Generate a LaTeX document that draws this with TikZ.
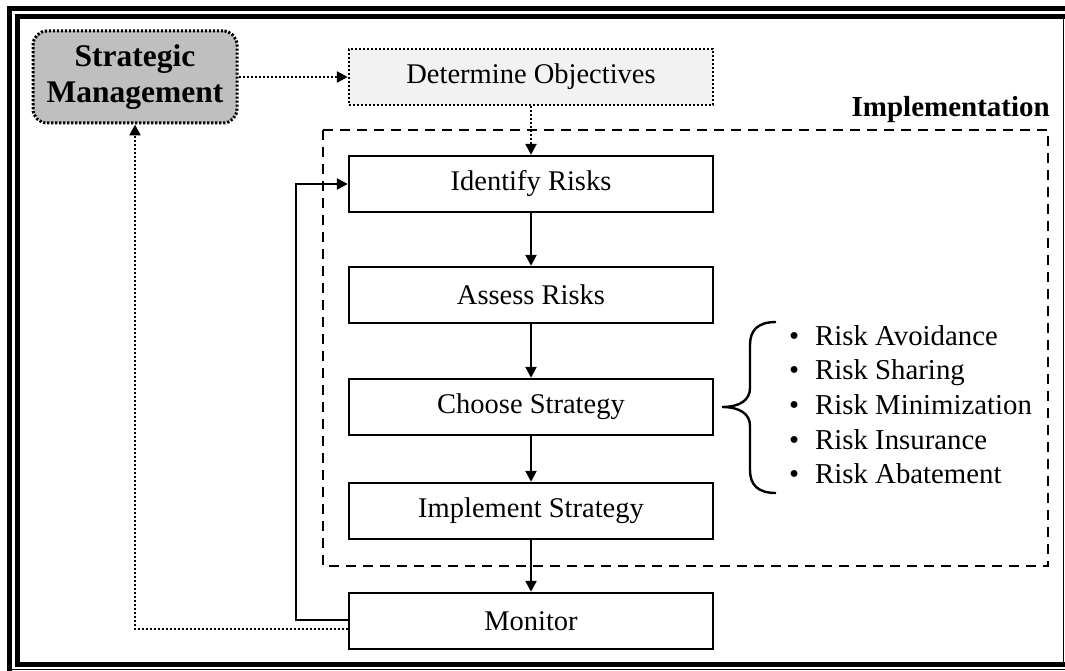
\documentclass[tikz,border=0pt]{standalone}
\usepackage{fontspec}
\setmainfont{Liberation Serif}
\usetikzlibrary{arrows.meta,calc}
\begin{document}
\begin{tikzpicture}[x=1pt,y=-1pt,
  box/.style={draw=black,line width=2.4pt,minimum width=364pt,minimum height=56pt,inner sep=0pt,
    font=\fontsize{28.5}{33}\selectfont},
  dotline/.style={line width=2.5pt,dash pattern=on 2.2pt off 1.8pt},
  tip/.style={-{Triangle[length=11pt,width=11pt]}},
  solidarrow/.style={line width=2.4pt,tip},
  item/.style={inner sep=0pt,font=\fontsize{28.8}{33}\selectfont},
  frame/.style={line width=5pt}]
\useasboundingbox (0,0) rectangle (1065,671);
% double frame
\draw[frame] (9.5,6) -- (9.5,671);
\draw[frame] (7,8.5) -- (1065,8.5);
\draw[line width=1.5pt] (7,669.5) -- (1065,669.5);
\draw[frame] (17,14) -- (17,666.5);
\draw[frame] (14.5,16.5) -- (1065,16.5);
\draw[frame] (14.5,664) -- (1065,664);
\draw[line width=1.5pt] (1063.5,16) -- (1063.5,664);
% implementation region
\draw[line width=2.8pt,dash pattern=on 10pt off 7pt] (323,130) rectangle (1048,566);
\node[anchor=base east,inner sep=0pt,font=\fontsize{29}{34}\selectfont\bfseries] (impl) at (1050,117) {Implementation};
% nodes
\node[draw=black,dotline,line width=3pt,fill=black!25,rounded corners=14pt,minimum width=204pt,minimum height=92pt,
  inner sep=0pt,align=center,font=\fontsize{31.5}{36}\selectfont\bfseries] (sm) at (135,77) {Strategic\\Management};
\node[box,dotline,fill=black!5] (do) at (531,77) {Determine Objectives};
\node[box] (ir) at (531,184) {Identify Risks};
\node[box] (ar) at (531,295) {Assess Risks};
\node[box] (cs) at (531,407) {Choose Strategy};
\node[box] (is) at (531,511) {Implement Strategy};
\node[box] (mo) at (531,621) {Monitor};
% connectors
\draw[dotline,tip] (sm.east) -- (do.west);
\draw[dotline,tip] (do.south) -- (ir.north);
\draw[solidarrow] (ir.south) -- (ar.north);
\draw[solidarrow] (ar.south) -- (cs.north);
\draw[solidarrow] (cs.south) -- (is.north);
\draw[solidarrow] (is.south) -- (mo.north);
\coordinate (lx) at (296,0);
\coordinate (mo1) at ([yshift=1pt]mo.west);
\draw[solidarrow] (mo1) -- (mo1 -| lx) -- (ir.west -| lx) -- (ir.west);
\coordinate (mo2) at ([yshift=-8pt]mo.west);
\draw[dotline,tip] (mo2) -- (mo2 -| sm.south) -- (sm.south);
% brace
\draw[line width=2.4pt] (776,322) .. controls (758,322) and (750,330) .. (750,345)
  -- (750,388) .. controls (750,400) and (740,407) .. (722,407)
  .. controls (740,407) and (750,414) .. (750,426)
  -- (750,470) .. controls (750,485) and (758,493) .. (776,493);
% bullet list
\foreach \t [count=\i] in {Risk Avoidance,Risk Sharing,Risk Minimization,Risk Insurance,Risk Abatement}
  \node[item,anchor=base west] (b\i) at (789,310.3+34.7*\i) {\makebox[26pt][l]{\textbullet}\t};
\end{tikzpicture}
\end{document}
